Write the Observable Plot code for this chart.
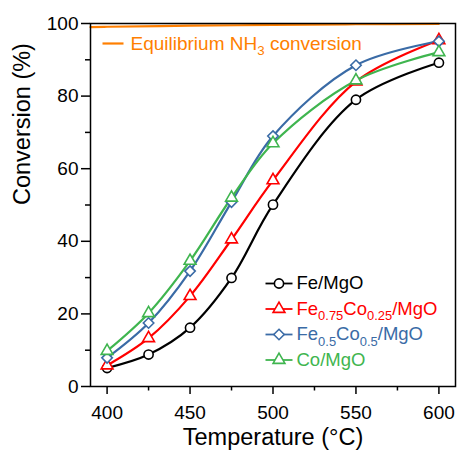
<!DOCTYPE html>
<html>
<head>
<meta charset="utf-8">
<script src="https://cdn.jsdelivr.net/npm/d3@7"></script>
<script src="https://cdn.jsdelivr.net/npm/@observablehq/plot@0.6"></script>
<style>
  html, body { margin: 0; padding: 0; background: #fff; }
  #chart svg { font-family: "Liberation Sans", Arial, sans-serif; display: block; }
</style>
</head>
<body>
<div id="chart"></div>
<script>
// ---- data ----
const temps = [400, 425, 450, 475, 500, 550, 600];
const feMgO   = [5.1, 8.8, 16.2, 29.9, 50.1, 79.0, 89.2];
const fe75Co25 = [5.8, 13.3, 24.9, 40.5, 56.8, 84.0, 95.4];
const fe50Co50 = [7.9, 17.5, 31.8, 50.8, 69.0, 88.5, 95.1];
const coMgO   = [9.8, 20.2, 34.6, 52.0, 67.0, 84.3, 92.1];

const eqTemps = [390, 400, 450, 500, 550, 600];
const eqValues = [99.0, 99.1, 99.4, 99.6, 99.8, 99.9];

const seriesNames = ["Fe/MgO", "Fe_{0.75}Co_{0.25}/MgO", "Fe_{0.5}Co_{0.5}/MgO", "Co/MgO"];
const seriesValues = [feMgO, fe75Co25, fe50Co50, coMgO];
const seriesColors = ["#000000", "#ff0000", "#3a6ba6", "#3fb54f"];
const seriesSymbols = ["circle", "triangle", "diamond2", "triangle"];
const seriesRadii = [4.6, 4.4, 4.7, 4.4];
const eqLabel = "Equilibrium NH_{3} conversion";
const eqColor = "#ff7f00";

const xTicks = [400, 450, 500, 550, 600];
const xMinor = [425, 475, 525, 575];
const yTicks = [0, 20, 40, 60, 80, 100];
const yMinor = [10, 30, 50, 70, 90];

// ---- build table ----
const rows = seriesNames.flatMap((name, s) =>
  temps.map((t, i) => ({series: name, T: t, v: seriesValues[s][i]})));
const eqRows = eqTemps.map((t, i) => ({T: t, v: eqValues[i]}));

const dash = (half) => ({draw(ctx) { ctx.moveTo(-half, 0); ctx.lineTo(half, 0); }});

const marks = [
  Plot.axisX(xTicks, {tickSize: 8, tickPadding: 11, fontSize: 19, strokeWidth: 1.5, label: null, tickFormat: d => String(d)}),
  Plot.axisX(xMinor, {tickSize: 4.5, strokeWidth: 1.5, label: null, tickFormat: () => ""}),
  Plot.axisY(yTicks, {tickSize: 9, tickPadding: 3, fontSize: 19, strokeWidth: 1.5, label: null, tickFormat: d => String(d)}),
  Plot.axisY(yMinor, {tickSize: 5, strokeWidth: 1.5, label: null, tickFormat: () => ""}),
  Plot.line(eqRows, {x: "T", y: "v", stroke: eqColor, strokeWidth: 2.2, curve: "catmull-rom"}),
  Plot.line(rows, {x: "T", y: "v", z: "series", stroke: "series", strokeWidth: 2.2, curve: "catmull-rom"})
];

seriesNames.forEach((name, i) => {
  marks.push(Plot.dot(rows.filter(d => d.series === name),
    {x: "T", y: "v", stroke: seriesColors[i], symbol: seriesSymbols[i], fill: "white", r: seriesRadii[i], strokeWidth: 1.6}));
});

marks.push(
  Plot.frame({stroke: "black", strokeWidth: 1.5}),
  // axis titles
  Plot.text(["Temperature (°C)"], {frameAnchor: "bottom", dy: 42, lineAnchor: "top", text: d => d, fontSize: 23.5}),
  Plot.text(["Conversion (%)"], {frameAnchor: "left", dx: -68, rotate: -90, lineAnchor: "middle", text: d => d, fontSize: 23.5}),
  // equilibrium legend
  Plot.dot([eqLabel], {frameAnchor: "top-left", dx: 22.5, dy: 20, symbol: dash(10.5), stroke: eqColor, fill: "none", strokeWidth: 2.2}),
  Plot.text([eqLabel], {frameAnchor: "top-left", dx: 40, dy: 20, text: d => d, fill: eqColor, textAnchor: "start", lineAnchor: "middle", fontSize: 19})
);

seriesNames.forEach((name, i) => {
  const dy = 260 + i * 25.5;
  marks.push(
    Plot.dot([name], {frameAnchor: "top-left", dx: 188.5, dy, symbol: dash(13.5), stroke: seriesColors[i], fill: "none", strokeWidth: 1.8}),
    Plot.dot([name], {frameAnchor: "top-left", dx: 188.5, dy, symbol: seriesSymbols[i], stroke: seriesColors[i], fill: "white", r: seriesRadii[i], strokeWidth: 1.6}),
    Plot.text([name], {frameAnchor: "top-left", dx: 206, dy, text: d => d, fill: seriesColors[i], textAnchor: "start", lineAnchor: "middle", fontSize: 18.5})
  );
});

const chart = Plot.plot({
  width: 458,
  height: 460,
  marginTop: 23,
  marginBottom: 74,
  marginLeft: 90,
  marginRight: 3,
  style: {fontFamily: '"Liberation Sans", Arial, sans-serif', color: "black", background: "white", overflow: "visible"},
  x: {domain: [390, 610]},
  y: {domain: [0, 100]},
  color: {domain: seriesNames, range: seriesColors},
  marks
});

document.getElementById("chart").appendChild(chart);

// subscripts: "_{...}" -> tspan
const NS = "http://www.w3.org/2000/svg";
d3.select(chart).selectAll("text").each(function() {
  const t = this.textContent;
  if (!t.includes("_{")) return;
  const fs = parseFloat(getComputedStyle(this).fontSize) || 18;
  const shift = fs * 0.3;
  const parts = t.split(/_\{([^}]*)\}/);
  this.textContent = "";
  let down = false;
  parts.forEach((p, i) => {
    if (p === "") return;
    const ts = document.createElementNS(NS, "tspan");
    const isSub = i % 2 === 1;
    if (isSub) {
      ts.setAttribute("font-size", (fs * 0.7) + "px");
      if (!down) { ts.setAttribute("dy", shift); down = true; }
    } else if (down) {
      ts.setAttribute("dy", -shift); down = false;
    }
    ts.textContent = p;
    this.appendChild(ts);
  });
});
</script>
</body>
</html>
